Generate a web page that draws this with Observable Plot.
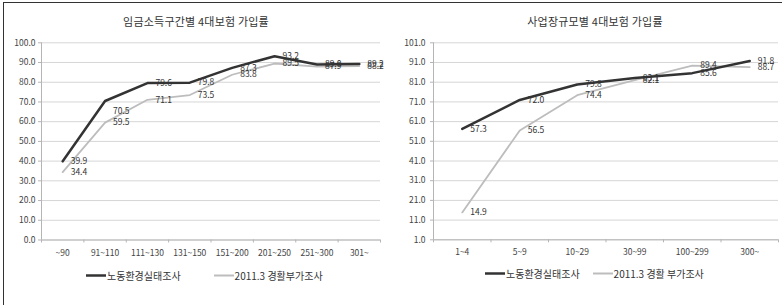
<!DOCTYPE html>
<html>
<head>
<meta charset="utf-8">
<script src="https://cdn.jsdelivr.net/npm/d3@7"></script>
<script src="https://cdn.jsdelivr.net/npm/@observablehq/plot@0.6"></script>
<style>
  html, body { margin: 0; padding: 0; background: #fff; }
  #wrap { position: relative; width: 782px; height: 305px; overflow: hidden; background: #fff;
          font-family: "Noto Sans CJK KR", "Noto Sans", sans-serif; color: #333; }
  #frame { position: absolute; left: 3px; top: 2px; right: -5px; bottom: -5px;
           border-left: 1.5px solid #333; border-top: 1.5px solid #333; }
  .title { position: absolute; font-size: 11px; letter-spacing: 0.2px; color: #333; transform: translate(-50%, -50%); white-space: nowrap; }
  .chart { position: absolute; top: 30px; }
  .legend { position: absolute; font-size: 9.5px; color: #333; white-space: nowrap; display: flex; align-items: center; transform: translateY(-50%); }
  .legend .item { display: flex; align-items: center; }
  .legend svg { display: block; }
</style>
</head>
<body>
<div id="wrap">
  <div id="frame"></div>
</div>
<script>
// ---- data ----
const leftTitle = "임금소득구간별 4대보험 가입률";
const leftCats = ["~90", "91~110", "111~130", "131~150", "151~200", "201~250", "251~300", "301~"];
const leftSurvey = [39.9, 70.5, 79.6, 79.8, 87.3, 93.2, 89.0, 89.2];
const leftSupplement = [34.4, 59.5, 71.1, 73.5, 83.8, 89.5, 87.9, 88.2];
const leftTicks = [0, 10, 20, 30, 40, 50, 60, 70, 80, 90, 100];
const leftSeriesNames = ["노동환경실태조사", "2011.3 경활부가조사"];

const rightTitle = "사업장규모별 4대보험 가입률";
const rightCats = ["1~4", "5~9", "10~29", "30~99", "100~299", "300~"];
const rightSurvey = [57.3, 72.0, 79.8, 83.1, 85.6, 91.8];
const rightSupplement = [14.9, 56.5, 74.4, 82.1, 89.4, 88.7];
const rightTicks = [1, 11, 21, 31, 41, 51, 61, 71, 81, 91, 101];
const rightSeriesNames = ["노동환경실태조사", "2011.3 경활 부가조사"];

const colors = ["#333333", "#bdbdbd"];
const widths = [2.5, 1.8];

const wrap = document.getElementById("wrap");

function makeChart(cfg) {
  const n = cfg.cats.length;
  const rows = [];
  cfg.series.forEach((vals, s) => vals.forEach((v, i) => rows.push({i, cat: cfg.cats[i], s, v})));
  const bySeries = s => rows.filter(d => d.s === s);
  const yMin = cfg.ticks[0], yMax = cfg.ticks[cfg.ticks.length - 1];
  const normalLabels = rows.filter(d => !cfg.shifted(d));
  const shiftedLabels = rows.filter(d => cfg.shifted(d));

  const plot = Plot.plot({
    width: cfg.width,
    height: 232,
    marginTop: 12.3,
    marginBottom: cfg.marginBottom,
    marginLeft: cfg.marginLeft,
    marginRight: cfg.marginRight,
    style: {fontFamily: '"Noto Sans CJK KR", "Noto Sans", sans-serif', fontSize: "8.5px", color: "#444", background: "transparent"},
    x: {type: "linear", domain: [-0.5, n - 0.5], axis: null},
    y: {domain: [yMin, yMax], axis: null},
    marks: [
      Plot.gridY(cfg.ticks, {stroke: "#d6d6d6", strokeOpacity: 1}),
      Plot.ruleY([yMin], {stroke: "#b5b5b5"}),
      Plot.ruleX([-0.5], {stroke: "#b5b5b5", y1: yMin, y2: yMax}),
      Plot.axisY(cfg.ticks, {tickFormat: d => d.toFixed(1), tickSize: 3, tickPadding: cfg.yPad, stroke: "#b5b5b5", fill: "#444", label: null}),
      Plot.axisX(d3.range(n), {tickFormat: i => cfg.cats[i], tickSize: 0, tickPadding: cfg.xPad, fill: "#444", label: null}),
      Plot.axisX(d3.range(n + 1).map(i => i - 0.5), {tickFormat: () => "", tickSize: 3, stroke: "#b5b5b5", label: null}),
      Plot.line(bySeries(1), {x: "i", y: "v", stroke: colors[1], strokeWidth: widths[1], strokeLinejoin: "miter"}),
      Plot.line(bySeries(0), {x: "i", y: "v", stroke: colors[0], strokeWidth: widths[0], strokeLinejoin: "miter"}),
      Plot.text(normalLabels, {x: "i", y: "v", text: d => d.v.toFixed(1), dx: 8, textAnchor: "start", fill: "#333", fontSize: 8.5}),
      Plot.text(shiftedLabels, {x: "i", y: "v", text: d => d.v.toFixed(1), dx: 8, dy: 10, textAnchor: "start", fill: "#333", fontSize: 8.5})
    ]
  });
  const holder = document.createElement("div");
  holder.className = "chart";
  holder.style.left = cfg.left + "px";
  holder.appendChild(plot);
  wrap.appendChild(holder);

  const title = document.createElement("div");
  title.className = "title";
  title.textContent = cfg.title;
  title.style.left = cfg.titleX + "px";
  title.style.top = "21px";
  wrap.appendChild(title);

  const legend = document.createElement("div");
  legend.className = "legend";
  legend.style.left = cfg.legendX + "px";
  legend.style.top = cfg.legendY + "px";
  cfg.names.forEach((name, s) => {
    const item = document.createElement("div");
    item.className = "item";
    item.style.marginRight = s === 0 ? cfg.legendGap + "px" : "0";
    item.innerHTML = `<svg width="20" height="6"><line x1="0" x2="20" y1="3" y2="3" stroke="${colors[s]}" stroke-width="${widths[s]}"/></svg><span style="margin-left:1px;font-size:10px">${name}</span>`;
    legend.appendChild(item);
  });
  wrap.appendChild(legend);
}

makeChart({
  title: leftTitle, titleX: 196,
  cats: leftCats, series: [leftSurvey, leftSupplement], ticks: leftTicks, names: leftSeriesNames,
  left: 0, width: 390, marginLeft: 41, marginRight: 10, marginBottom: 22.5, yPad: 3, xPad: 10,
  legendX: 86, legendY: 275, legendGap: 33,
  shifted: d => d.s === 0 && d.cat === "91~110"
});

makeChart({
  title: rightTitle, titleX: 595,
  cats: rightCats, series: [rightSurvey, rightSupplement], ticks: rightTicks, names: rightSeriesNames,
  left: 390, width: 392, marginLeft: 43, marginRight: 4, marginBottom: 22.7, yPad: 5, xPad: 9.5,
  legendX: 485, legendY: 273, legendGap: 13,
  shifted: d => false
});
</script>
</body>
</html>
